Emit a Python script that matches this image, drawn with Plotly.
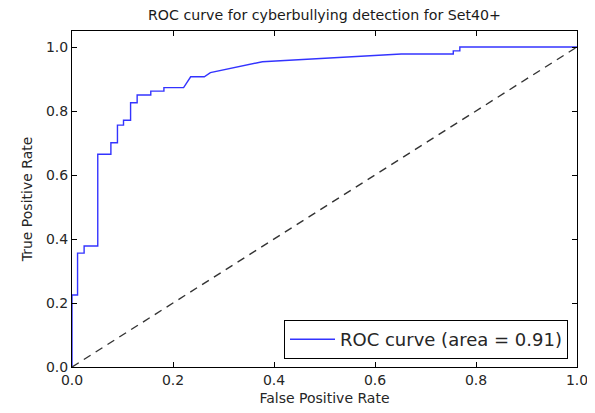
import plotly.graph_objects as go

fpr = [0.0, 0.0, 0.011, 0.011, 0.024, 0.024, 0.051, 0.051, 0.077, 0.077, 0.090, 0.090,
       0.102, 0.102, 0.116, 0.116, 0.129, 0.129, 0.156, 0.156, 0.182, 0.182, 0.221,
       0.235, 0.262, 0.274, 0.377, 0.652, 0.755, 0.755, 0.768, 0.768, 1.0]
tpr = [0.0, 0.225, 0.225, 0.356, 0.356, 0.378, 0.378, 0.665, 0.665, 0.701, 0.701, 0.756,
       0.756, 0.771, 0.771, 0.826, 0.826, 0.85, 0.85, 0.862, 0.862, 0.873, 0.873,
       0.907, 0.907, 0.92, 0.954, 0.978, 0.978, 0.988, 0.988, 1.0, 1.0]
diag = [0.0, 1.0]
auc = 0.91
ticks = [0, 0.2, 0.4, 0.6, 0.8, 1.0]
tick_text = ["0.0", "0.2", "0.4", "0.6", "0.8", "1.0"]

fig = go.Figure()
fig.add_trace(go.Scatter(x=fpr, y=tpr, mode="lines",
                         line=dict(color="rgba(0,0,255,0.8)", width=1.4),
                         name=f"ROC curve (area = {auc:.2f})"))
fig.add_trace(go.Scatter(x=diag, y=diag, mode="lines",
                         line=dict(color="#333333", width=1.4, dash="8px,6px"),
                         showlegend=False))

axis_common = dict(showline=True, linecolor="black", linewidth=1, mirror="ticks",
                   ticks="inside", ticklen=5, tickcolor="black", showgrid=False,
                   zeroline=False, automargin=False,
                   tickfont=dict(size=14, color="#262626"))

fig.update_layout(
    width=587, height=405,
    margin=dict(l=64, r=18, t=23, b=46),
    plot_bgcolor="white", paper_bgcolor="white",
    font=dict(family="DejaVu Sans", color="#262626"),
    title=dict(text="ROC curve for cyberbullying detection for Set40+",
               x=(64 + 505 / 2) / 587, xanchor="center",
               yref="container", y=1 - 7 / 405, yanchor="middle",
               font=dict(size=14.2, color="#1a1a1a")),
    xaxis=dict(range=[0, 1], tickvals=ticks, ticktext=tick_text,
               title=dict(text="False Positive Rate", font=dict(size=14), standoff=6),
               **axis_common),
    yaxis=dict(range=[0, 1.05], tickvals=ticks, ticktext=tick_text,
               title=dict(text="True Positive Rate", font=dict(size=14), standoff=10),
               **axis_common),
    legend=dict(x=1 - 9 / 505, y=8 / 336, xanchor="right", yanchor="bottom",
                bordercolor="black", borderwidth=1, bgcolor="white",
                itemwidth=45,
                font=dict(size=18, color="#262626")),
    showlegend=True,
)

fig.write_html("out.html")
